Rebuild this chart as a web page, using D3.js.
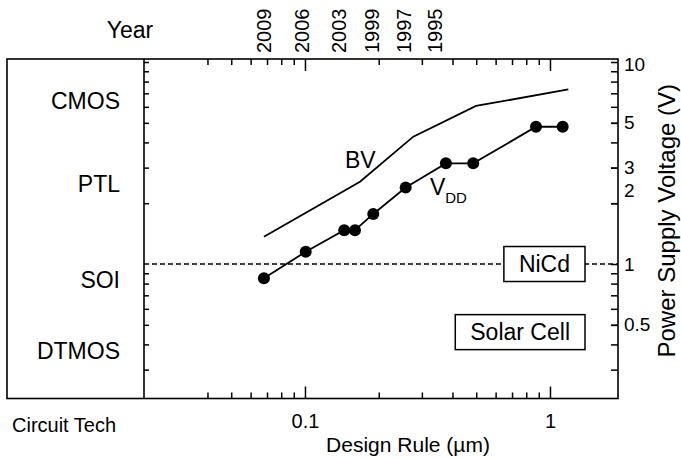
<!DOCTYPE html>
<html><head><meta charset="utf-8">
<script src="https://cdn.jsdelivr.net/npm/d3@7"></script>
<style>
body{margin:0;background:#fff}
svg text{font-family:"Liberation Sans",Arial,Helvetica,sans-serif;fill:#000}
</style>
</head><body>
<svg id="chart" width="681" height="458"></svg>
<script>
// ---- data ----
const designRule = [0.068, 0.1007, 0.1446, 0.16, 0.19, 0.2576, 0.376, 0.486, 0.877, 1.127];
const vddVolt    = [0.85, 1.15, 1.47, 1.47, 1.77, 2.39, 3.15, 3.15, 4.78, 4.78];
const bvRule     = [0.068, 0.1677, 0.2767, 0.499, 1.188];
const bvVolt     = [1.365, 2.555, 4.27, 6.06, 7.32];
const years      = ["2009", "2006", "2003", "1999", "1997", "1995"];
const yearRule   = [0.068, 0.097, 0.138, 0.188, 0.253, 0.34];
const circuitTech = ["CMOS", "PTL", "SOI", "DTMOS"];
const techVolt    = [6.4, 2.5, 0.83, 0.37];
const voltLabels  = [10, 5, 3, 2, 1, 0.5];
const voltMinor   = [0.3,0.4,0.5,0.6,0.7,0.8,0.9,2,3,4,5,6,7,8,9];
const ruleLabels  = [0.1, 1];
const ruleMinor   = [0.04,0.05,0.06,0.07,0.08,0.09,0.2,0.3,0.4,0.5,0.6,0.7,0.8,0.9];
const nicdVolt = 1, solarVolt = 0.46;
const bvLabel  = [0.1457, 2.99];
const vddLabel = [0.3235, 2.2];

// ---- layout ----
const outerL = 7, plotL = 144, plotR = 618, plotT = 59, plotB = 398.5;
const svg = d3.select("#chart");

const x = d3.scaleLog().domain([0.02203, 1.895]).range([plotL, plotR]);
const y = d3.scaleLog().domain([0.2159, 10.35]).range([plotB, plotT]);

// frame
svg.append("rect").attr("x", outerL).attr("y", plotT)
  .attr("width", plotR - outerL).attr("height", plotB - plotT)
  .attr("fill", "none").attr("stroke", "#000").attr("stroke-width", 1.6);
svg.append("line").attr("x1", plotL).attr("x2", plotL).attr("y1", plotT).attr("y2", plotB)
  .attr("stroke", "#000").attr("stroke-width", 1.6);

function styleAxis(g){
  g.select(".domain").remove();
  g.selectAll(".tick line").attr("stroke", "#000").attr("stroke-width", 1.5);
  g.selectAll(".tick text").attr("fill", "#000");
}
// bottom axis
svg.append("g").attr("transform", `translate(0,${plotB})`)
  .call(d3.axisBottom(x).tickValues(ruleMinor).tickSize(-6).tickFormat("")).call(styleAxis);
svg.append("g").attr("transform", `translate(0,${plotB})`)
  .call(d3.axisBottom(x).tickValues(ruleLabels).tickSize(-12).tickPadding(15).tickFormat(d3.format("")))
  .call(styleAxis)
  .call(g => g.selectAll(".tick text").attr("font-size", 20));
// top axis
svg.append("g").attr("transform", `translate(0,${plotT})`)
  .call(d3.axisTop(x).tickValues(ruleMinor).tickSize(-6).tickFormat("")).call(styleAxis);
svg.append("g").attr("transform", `translate(0,${plotT})`)
  .call(d3.axisTop(x).tickValues(ruleLabels).tickSize(-12).tickFormat("")).call(styleAxis);
// left (divider) axis
svg.append("g").attr("transform", `translate(${plotL},0)`)
  .call(d3.axisLeft(y).tickValues(voltMinor.concat([10]).filter(v => v !== 1)).tickSize(-5).tickFormat("")).call(styleAxis);
// right axis
svg.append("g").attr("transform", `translate(${plotR},0)`)
  .call(d3.axisRight(y).tickValues(voltMinor).tickSize(-7).tickFormat("")).call(styleAxis);
svg.append("g").attr("transform", `translate(${plotR},0)`)
  .call(d3.axisRight(y).tickValues(voltLabels).tickSize(-7).tickPadding(6).tickFormat(d => String(d)))
  .call(styleAxis)
  .call(g => g.selectAll(".tick text").attr("font-size", 19)
    .attr("dy", d => d === 2 ? "-0.35em" : d === 10 ? "0.45em" : "0.32em"));

// year labels (top)
svg.append("g").selectAll("text").data(years).join("text")
  .attr("transform", (d, i) => `translate(${x(yearRule[i]) + 7},53) rotate(-90)`)
  .attr("font-size", 20).attr("text-anchor", "start").text(d => d);
svg.append("text").attr("x", 130).attr("y", 38).attr("text-anchor", "middle")
  .attr("font-size", 23).text("Year");

// circuit tech labels
svg.append("g").selectAll("text").data(circuitTech).join("text")
  .attr("x", 120).attr("y", (d, i) => y(techVolt[i]))
  .attr("dy", "0.35em").attr("text-anchor", "end").attr("font-size", 23).text(d => d);
svg.append("text").attr("x", 12).attr("y", 432).attr("font-size", 20).text("Circuit Tech");

// axis titles
svg.append("text").attr("x", 408).attr("y", 452).attr("text-anchor", "middle")
  .attr("font-size", 21).text("Design Rule  (\u00b5m)");
svg.append("text").attr("transform", `translate(675,${(plotT + plotB) / 2 - 8}) rotate(-90)`)
  .attr("text-anchor", "middle").attr("font-size", 24).text("Power Supply Voltage (V)");

// NiCd dashed line
svg.append("line").attr("x1", plotL).attr("x2", plotR).attr("y1", y(nicdVolt)).attr("y2", y(nicdVolt))
  .attr("stroke", "#000").attr("stroke-width", 1.5).attr("stroke-dasharray", "5,3");

// boxes
function labelBox(txt, volt, right){
  const g = svg.append("g");
  const t = g.append("text").attr("font-size", 23).attr("text-anchor", "middle").text(txt);
  const w = t.node().getComputedTextLength() + 30, h = 35;
  const cy = y(volt);
  g.insert("rect", "text").attr("x", right - w).attr("y", cy - h / 2).attr("width", w).attr("height", h)
    .attr("fill", "#fff").attr("stroke", "#000").attr("stroke-width", 1.5);
  t.attr("x", right - w / 2).attr("y", cy).attr("dy", "0.36em");
}
labelBox("NiCd", nicdVolt, 585);
labelBox("Solar Cell", solarVolt, 585);

// BV line
const bvData = bvRule.map((r, i) => [r, bvVolt[i]]);
const line = d3.line().x(d => x(d[0])).y(d => y(d[1]));
svg.append("path").datum(bvData).attr("d", line)
  .attr("fill", "none").attr("stroke", "#000").attr("stroke-width", 1.8);
// VDD line + points
const vddData = designRule.map((r, i) => [r, vddVolt[i]]);
svg.append("path").datum(vddData).attr("d", line)
  .attr("fill", "none").attr("stroke", "#000").attr("stroke-width", 1.8);
svg.append("g").selectAll("circle").data(vddData).join("circle")
  .attr("cx", d => x(d[0])).attr("cy", d => y(d[1])).attr("r", 6).attr("fill", "#000");

// line labels
svg.append("text").attr("x", x(bvLabel[0])).attr("y", y(bvLabel[1])).attr("font-size", 23).text("BV");
const vt = svg.append("text").attr("x", x(vddLabel[0])).attr("y", y(vddLabel[1])).attr("font-size", 23);
vt.append("tspan").text("V");
vt.append("tspan").attr("font-size", 15).attr("dy", 8).text("DD");
</script>
</body></html>
